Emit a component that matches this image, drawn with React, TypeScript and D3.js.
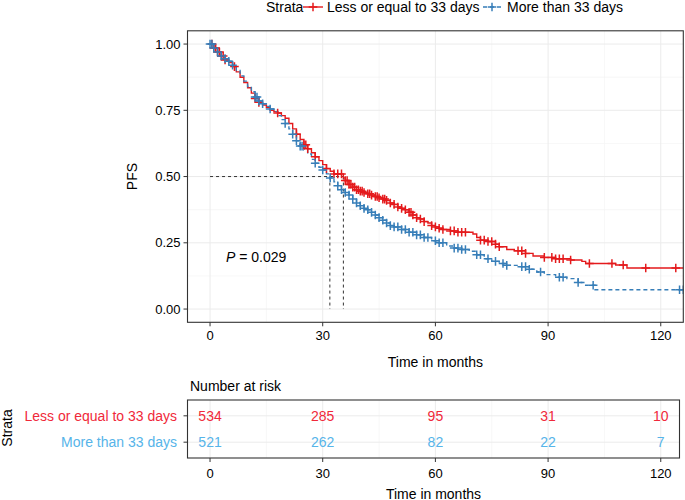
import React from "react";
import * as d3 from "d3";

// ---------- data ----------
const STRATA = ["Less or equal to 33 days", "More than 33 days"];
const X_TICKS = [0, 30, 60, 90, 120];
const Y_TICKS = [0, 0.25, 0.5, 0.75, 1];
const Y_TICK_LABELS = ["0.00", "0.25", "0.50", "0.75", "1.00"];

// red: <= 33 days (step times and survival after each drop)
const RED_T = [0, 1, 2, 3, 4, 5, 6, 7, 8, 9, 10, 11, 12, 13, 14, 15, 16, 17, 18, 19, 20, 21, 22, 23, 24, 25, 26, 27, 28, 29, 30, 31, 32, 33, 35.5, 36, 37, 38, 39, 40, 41, 42, 43, 44, 45, 46, 47, 48, 49, 50, 51, 52, 53, 54, 55, 56, 57, 58, 59, 60, 61, 62, 64, 66, 70, 71, 72, 74, 76, 77, 79, 81, 84, 86, 89, 92, 96, 99, 100, 108, 111];
const RED_S = [1.0, 0.985, 0.97, 0.955, 0.94, 0.93, 0.915, 0.895, 0.875, 0.855, 0.835, 0.815, 0.795, 0.78, 0.77, 0.76, 0.75, 0.745, 0.74, 0.73, 0.72, 0.7, 0.68, 0.66, 0.64, 0.62, 0.605, 0.59, 0.575, 0.56, 0.545, 0.53, 0.52, 0.51, 0.495, 0.485, 0.47, 0.46, 0.45, 0.445, 0.44, 0.435, 0.43, 0.425, 0.42, 0.415, 0.41, 0.4, 0.395, 0.385, 0.38, 0.375, 0.365, 0.355, 0.345, 0.34, 0.33, 0.325, 0.315, 0.31, 0.305, 0.3, 0.295, 0.29, 0.283, 0.27, 0.26, 0.255, 0.245, 0.235, 0.225, 0.22, 0.21, 0.2, 0.195, 0.19, 0.185, 0.18, 0.172, 0.166, 0.155];
const RED_CENSOR = [0.5, 1, 1.5, 2, 2.5, 3, 3.5, 4, 6.5, 12, 13, 18, 23, 25, 25.5, 26, 28, 31, 33, 34, 35, 36, 36.5, 37, 37.5, 38, 38.5, 39, 39.5, 40, 40.5, 41, 42, 42.5, 43, 44, 44.5, 45, 46, 46.5, 47, 48, 49, 50, 51, 52, 53, 53.5, 54, 55, 56, 57, 59, 60, 61, 62, 64, 65, 66, 67, 68, 72, 73, 74, 75, 76, 77, 82, 83, 84, 89, 91, 92, 93, 94, 96, 101, 107, 110, 116, 124];

// blue: > 33 days
const BLUE_T = [0, 1, 2, 3, 4, 5, 6, 7, 8, 9, 10, 11, 12, 13, 14, 15, 16, 17, 18, 19, 20, 21, 22, 23, 24, 25, 26, 27, 28, 29, 30, 31, 32, 33, 34, 35, 36, 37, 38, 39, 40, 41, 42, 43, 44, 45, 46, 47, 48, 49, 51, 53, 55, 57, 59, 61, 63, 65, 67, 69, 71, 73, 75, 77, 79, 82, 85, 87, 89, 92, 95, 98, 100, 102.5];
const BLUE_S = [1.0, 0.985, 0.97, 0.955, 0.945, 0.935, 0.92, 0.9, 0.88, 0.86, 0.84, 0.82, 0.8, 0.785, 0.775, 0.765, 0.755, 0.745, 0.73, 0.715, 0.7, 0.68, 0.66, 0.635, 0.615, 0.6, 0.585, 0.565, 0.55, 0.535, 0.525, 0.51, 0.495, 0.48, 0.465, 0.45, 0.44, 0.43, 0.415, 0.4, 0.39, 0.38, 0.375, 0.365, 0.355, 0.345, 0.335, 0.325, 0.315, 0.31, 0.3, 0.29, 0.28, 0.27, 0.258, 0.25, 0.238, 0.23, 0.225, 0.218, 0.205, 0.19, 0.18, 0.172, 0.165, 0.16, 0.15, 0.14, 0.13, 0.12, 0.115, 0.1, 0.09, 0.073];
const BLUE_CENSOR = [0, 0.5, 1, 2, 3, 4, 5, 6, 12, 12.5, 13, 14, 16, 20, 22, 23, 24, 24.5, 28, 30, 32, 34, 35, 36, 37, 38, 39, 40, 41, 42, 43, 44, 45, 46, 47, 48, 49, 50, 51, 52, 53, 54, 55, 56, 57, 58, 60, 61, 62, 65, 66, 67, 68, 71, 72, 74, 76, 78, 79, 83, 84, 85, 88, 93, 94, 98, 102, 125, 126];

const MEDIANS = [31.9, 35.5];
const RISK_RED = [534, 285, 95, 31, 10];
const RISK_BLUE = [521, 262, 82, 22, 7];
const P_LABEL = "0.029";

// ---------- styles ----------
const FONT = "'Liberation Sans', Arial, Helvetica, sans-serif";
const RED = "#E41A1C";
const BLUE = "#377EB8";
const RED_TXT = "#F0293A";
const BLUE_TXT = "#56B4E9";
const GRID = "#EBEBEB";
const GRID_MINOR = "#F3F3F3";
const BORDER = "#333333";

const W = 685;
const H = 500;
const T_END = 126.5;

function stepAt(ts: number[], ss: number[], t: number) {
  const i = d3.bisectRight(ts, t) - 1;
  return ss[Math.max(0, i)];
}

export default function App() {
  const x = d3.scaleLinear().domain([-6, 126]).range([187.5, 683.3]);
  const y = d3.scaleLinear().domain([-0.05, 1.05]).range([322.3, 30.8]);
  const riskX0 = 187.5;
  const riskX1 = 679.5;
  const riskY = d3.scaleLinear().domain([0.4, 2.6]).range([458, 400]);

  const line = d3
    .line<[number, number]>()
    .x((d) => x(d[0]))
    .y((d) => y(d[1]))
    .curve(d3.curveStepAfter);

  const series = [
    { ts: RED_T, ss: RED_S, cens: RED_CENSOR, color: RED, dash: undefined as string | undefined },
    { ts: BLUE_T, ss: BLUE_S, cens: BLUE_CENSOR, color: BLUE, dash: "4,3" },
  ];

  const xMinor = [15, 45, 75, 105];
  const yMinor = [0.125, 0.375, 0.625, 0.875];

  const plus = (cx: number, cy: number, color: string, key: string, s = 4.3) => (
    <g key={key} stroke={color} strokeWidth={1.5}>
      <line x1={cx - s} x2={cx + s} y1={cy} y2={cy} />
      <line x1={cx} x2={cx} y1={cy - s} y2={cy + s} />
    </g>
  );

  const [px0, px1] = x.range();
  const [py0, py1] = [y(1.05), y(-0.05)];

  return (
    <div style={{ position: "fixed", left: 0, top: 0 }}>
      <svg width={W} height={H} style={{ display: "block", background: "#fff" }} fontFamily={FONT}>
        <defs>
          <clipPath id="mainclip">
            <rect x={px0} y={py0} width={px1 - px0} height={py1 - py0} />
          </clipPath>
        </defs>

        {/* legend */}
        <text x={266} y={12} fontSize={14} fill="#000">Strata</text>
        <line x1={303} x2={323} y1={7} y2={7} stroke={RED} strokeWidth={1.4} />
        {plus(313, 7, RED, "lr")}
        <text x={327} y={12} fontSize={14} fill="#000">{STRATA[0]}</text>
        <line x1={483} x2={502} y1={7} y2={7} stroke={BLUE} strokeWidth={1.4} strokeDasharray="4,3" />
        {plus(492, 7, BLUE, "lb")}
        <text x={507} y={12} fontSize={14} fill="#000">{STRATA[1]}</text>

        {/* main panel grid */}
        {xMinor.map((t) => (
          <line key={"xm" + t} x1={x(t)} x2={x(t)} y1={py0} y2={py1} stroke={GRID_MINOR} strokeWidth={0.7} />
        ))}
        {yMinor.map((v) => (
          <line key={"ym" + v} x1={px0} x2={px1} y1={y(v)} y2={y(v)} stroke={GRID_MINOR} strokeWidth={0.7} />
        ))}
        {X_TICKS.map((t) => (
          <line key={"xg" + t} x1={x(t)} x2={x(t)} y1={py0} y2={py1} stroke={GRID} strokeWidth={1} />
        ))}
        {Y_TICKS.map((v) => (
          <line key={"yg" + v} x1={px0} x2={px1} y1={y(v)} y2={y(v)} stroke={GRID} strokeWidth={1} />
        ))}

        {/* median lines */}
        <g stroke="#333" strokeWidth={1} strokeDasharray="3,3" fill="none">
          <line x1={x(0)} x2={x(d3.max(MEDIANS)!)} y1={y(0.5)} y2={y(0.5)} />
          {MEDIANS.map((m) => (
            <line key={"md" + m} x1={x(m)} x2={x(m)} y1={y(0.5)} y2={y(0)} />
          ))}
        </g>

        {/* curves */}
        <g clipPath="url(#mainclip)">
          {series.map((s, i) => {
            const pts: [number, number][] = s.ts.map((t, j) => [t, s.ss[j]] as [number, number]);
            pts.push([T_END, s.ss[s.ss.length - 1]]);
            return (
              <path key={"c" + i} d={line(pts) || ""} fill="none" stroke={s.color} strokeWidth={1.4} strokeDasharray={s.dash} />
            );
          })}
          {series.map((s, i) => (
            <g key={"cg" + i}>
              {s.cens.map((t, j) => plus(x(t), y(stepAt(s.ts, s.ss, t)), s.color, `c${i}-${j}`))}
            </g>
          ))}
        </g>

        {/* P value */}
        <text x={226} y={261.5} fontSize={14} fill="#000">
          <tspan fontStyle="italic">P</tspan>
          <tspan> = {P_LABEL}</tspan>
        </text>

        {/* main panel border */}
        <rect x={px0} y={py0} width={px1 - px0} height={py1 - py0} fill="none" stroke={BORDER} strokeWidth={1.1} />

        {/* y axis */}
        {Y_TICKS.map((v, i) => (
          <g key={"yt" + v}>
            <line x1={px0 - 4} x2={px0} y1={y(v)} y2={y(v)} stroke={BORDER} strokeWidth={1} />
            <text x={px0 - 7} y={y(v)} dy="0.35em" textAnchor="end" fontSize={13} fill="#000">
              {Y_TICK_LABELS[i]}
            </text>
          </g>
        ))}
        <text transform={`translate(136.5,${(py0 + py1) / 2}) rotate(-90)`} textAnchor="middle" fontSize={14} fill="#000">
          PFS
        </text>

        {/* x axis */}
        {X_TICKS.map((t) => (
          <g key={"xt" + t}>
            <line x1={x(t)} x2={x(t)} y1={py1} y2={py1 + 4} stroke={BORDER} strokeWidth={1} />
            <text x={x(t)} y={339.5} textAnchor="middle" fontSize={13} fill="#000">
              {t}
            </text>
          </g>
        ))}
        <text x={(px0 + px1) / 2} y={366.5} textAnchor="middle" fontSize={14} fill="#000">
          Time in months
        </text>

        {/* risk table */}
        <text x={190} y={390.5} fontSize={14} fill="#000">Number at risk</text>
        {xMinor.map((t) => (
          <line key={"rxm" + t} x1={x(t)} x2={x(t)} y1={riskY(2.6)} y2={riskY(0.4)} stroke={GRID_MINOR} strokeWidth={0.7} />
        ))}
        {X_TICKS.map((t) => (
          <line key={"rxg" + t} x1={x(t)} x2={x(t)} y1={riskY(2.6)} y2={riskY(0.4)} stroke={GRID} strokeWidth={1} />
        ))}
        {[1, 2].map((r) => (
          <line key={"ryg" + r} x1={riskX0} x2={riskX1} y1={riskY(r)} y2={riskY(r)} stroke={GRID} strokeWidth={1} />
        ))}
        {[RISK_RED, RISK_BLUE].map((row, ri) =>
          row.map((n, j) => (
            <text
              key={`rn${ri}-${j}`}
              x={x(X_TICKS[j])}
              y={riskY(2 - ri)}
              dy="0.35em"
              textAnchor="middle"
              fontSize={14}
              fill={ri === 0 ? RED_TXT : BLUE_TXT}
            >
              {n}
            </text>
          ))
        )}
        <rect x={riskX0} y={riskY(2.6)} width={riskX1 - riskX0} height={riskY(0.4) - riskY(2.6)} fill="none" stroke={BORDER} strokeWidth={1.1} />
        {STRATA.map((s, ri) => (
          <g key={"rl" + ri}>
            <line x1={riskX0 - 4} x2={riskX0} y1={riskY(2 - ri)} y2={riskY(2 - ri)} stroke={BORDER} strokeWidth={1} />
            <text x={riskX0 - 10.5} y={riskY(2 - ri)} dy="0.35em" textAnchor="end" fontSize={14} fill={ri === 0 ? RED_TXT : BLUE_TXT}>
              {s}
            </text>
          </g>
        ))}
        <text transform={`translate(12,428) rotate(-90)`} textAnchor="middle" fontSize={14} fill="#000">
          Strata
        </text>
        {X_TICKS.map((t) => (
          <g key={"rxt" + t}>
            <line x1={x(t)} x2={x(t)} y1={riskY(0.4)} y2={riskY(0.4) + 4} stroke={BORDER} strokeWidth={1} />
            <text x={x(t)} y={477.5} textAnchor="middle" fontSize={13} fill="#000">
              {t}
            </text>
          </g>
        ))}
        <text x={(riskX0 + riskX1) / 2} y={498.5} textAnchor="middle" fontSize={14} fill="#000">
          Time in months
        </text>
      </svg>
    </div>
  );
}
